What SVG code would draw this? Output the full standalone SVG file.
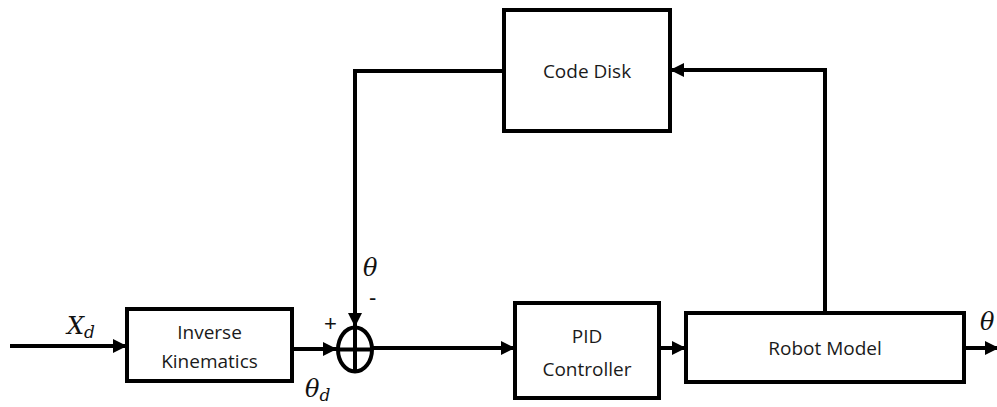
<svg xmlns="http://www.w3.org/2000/svg" width="997" height="407" viewBox="0 0 997 407">
<style>
.box{fill:#fff;stroke:#000;stroke-width:4}
.ln{fill:none;stroke:#000;stroke-width:4}
.lbl{font-family:"Open Sans","Liberation Sans",sans-serif;font-size:19px;fill:#1a1a1a;text-anchor:middle}
.math{font-family:"DejaVu Serif","Liberation Serif",serif;font-style:italic;fill:#111}
.sign{font-family:"Liberation Sans",sans-serif;font-size:22px;fill:#111}
</style>
<defs>
<marker id="ah" viewBox="0 0 10 10" refX="10" refY="5" markerWidth="3.5" markerHeight="3.5" orient="auto" markerUnits="strokeWidth">
<path d="M0,0 L10,5 L0,10 z" fill="#000"/>
</marker>
</defs>
<g id="connectors">
<line class="ln" x1="10" y1="346" x2="127" y2="346" marker-end="url(#ah)"/>
<line class="ln" x1="292" y1="349" x2="337" y2="349" marker-end="url(#ah)"/>
<line class="ln" x1="373" y1="348" x2="515" y2="348" marker-end="url(#ah)"/>
<line class="ln" x1="659" y1="348" x2="686" y2="348" marker-end="url(#ah)"/>
<line class="ln" x1="964" y1="348" x2="999" y2="348" marker-end="url(#ah)"/>
<polyline class="ln" points="825,313 825,70 670,70" marker-end="url(#ah)"/>
<polyline class="ln" points="504,71 355,71 355,327" marker-end="url(#ah)"/>
</g>
<g id="inverse-kinematics">
<rect class="box" x="127" y="309" width="165" height="72"/>
<text class="lbl" x="209.5" y="339">Inverse</text>
<text class="lbl" x="209.5" y="368">Kinematics</text>
</g>
<g id="sum">
<ellipse class="box" cx="355" cy="349.5" rx="17" ry="22"/>
<line class="ln" x1="355" y1="327.5" x2="355" y2="371.5" stroke-width="3"/>
<line class="ln" x1="338" y1="349.5" x2="372" y2="349.5" stroke-width="3"/>
</g>
<g id="pid-controller">
<rect class="box" x="515" y="303" width="144" height="95"/>
<text class="lbl" x="587" y="343">PID</text>
<text class="lbl" x="587" y="376">Controller</text>
</g>
<g id="robot-model">
<rect class="box" x="686" y="313" width="278" height="69"/>
<text class="lbl" x="825" y="355">Robot Model</text>
</g>
<g id="code-disk">
<rect class="box" x="504" y="10" width="166" height="121"/>
<text class="lbl" x="587" y="78">Code Disk</text>
</g>
<g id="labels">
<text class="math" x="67" y="334" font-size="24">X<tspan font-size="17" dy="4">d</tspan></text>
<text class="math" x="305" y="397" font-size="24">θ<tspan font-size="17" dy="4">d</tspan></text>
<text class="math" x="363" y="276" font-size="24">θ</text>
<text class="sign" x="369" y="305">-</text>
<text class="sign" x="324" y="331">+</text>
<text class="math" x="980" y="330" font-size="24">θ</text>
</g>
</svg>
